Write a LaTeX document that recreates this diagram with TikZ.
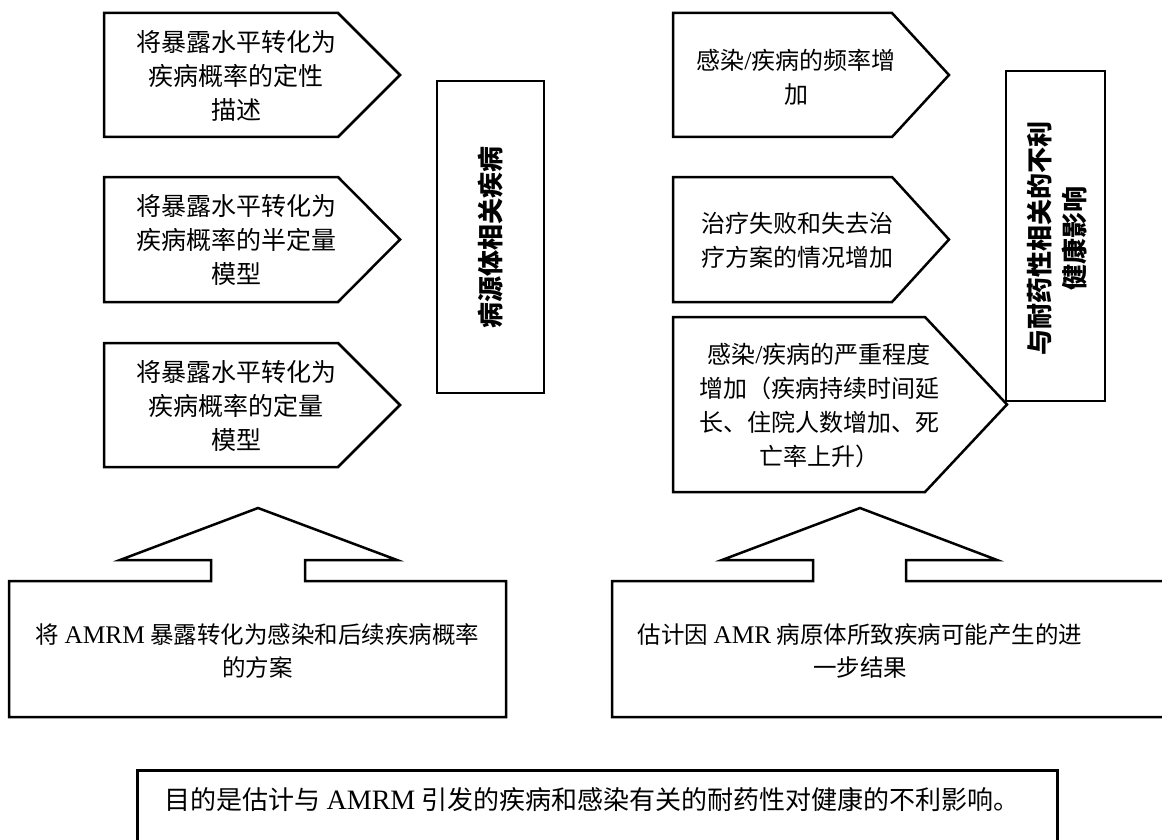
\documentclass[tikz,border=0pt]{standalone}
\usepackage{fontspec}
\setmainfont{Liberation Serif}
\newfontfamily\cjk{Noto Sans CJK SC}
\newfontfamily\lat{Liberation Serif}[Scale=1.08]
\begin{document}
\begin{tikzpicture}[x=1pt,y=-1pt,
  shp/.style={draw=black, line width=2.5pt, line join=miter, fill=white},
  txtL/.style={align=center, inner sep=0pt, font={\cjk\fontsize{25}{34}\selectfont}},
  txtR/.style={align=center, inner sep=0pt, font={\cjk\fontsize{24}{34}\selectfont}},
  txtC/.style={align=center, inner sep=0pt, font={\cjk\fontsize{23.5}{33}\selectfont}},
  txtB/.style={align=center, inner sep=0pt, font={\cjk\fontsize{26}{34}\selectfont}},
  txtV/.style={align=center, inner sep=0pt, rotate=90, font={\cjk\bfseries\fontsize{26}{35}\selectfont}}
]
\useasboundingbox (0,0) rectangle (1162,840);
\clip (0,0) rectangle (1162,840);

% left arrows
\draw[shp] (104,13) -- (338,13) -- (400,75) -- (338,137) -- (104,137) -- cycle;
\draw[shp] (104,177) -- (338,177) -- (400,239.5) -- (338,302) -- (104,302) -- cycle;
\draw[shp] (104,343) -- (338,343) -- (400,405) -- (338,467) -- (104,467) -- cycle;
\node[txtL] (l1) at (236,76) {将暴露水平转化为\\疾病概率的定性\\描述};
\node[txtL] (l2) at (236,240) {将暴露水平转化为\\疾病概率的半定量\\模型};
\node[txtL] (l3) at (236,406) {将暴露水平转化为\\疾病概率的定量\\模型};

% left vertical box
\draw[shp] (437,81) rectangle (544,393);
\node[txtV] (lv) at (490.5,237) {病源体相关疾病};

% right arrows
\draw[shp] (673,13) -- (892,13) -- (949,75) -- (892,137) -- (673,137) -- cycle;
\draw[shp] (673,177) -- (892,177) -- (949,239.5) -- (892,302) -- (673,302) -- cycle;
\draw[shp] (673,317) -- (925,317) -- (1007,404.5) -- (925,492) -- (673,492) -- cycle;
\node[txtR] (r1) at (796,77) {感染{\lat /}疾病的频率增\\加};
\node[txtR] (r2) at (797,240) {治疗失败和失去治\\疗方案的情况增加};
\node[txtR] (r3) at (819,406) {感染{\lat /}疾病的严重程度\\增加（疾病持续时间延\\长、住院人数增加、死\\亡率上升）};

% right vertical box
\draw[shp] (1006,71) rectangle (1105,401);
\node[txtV] (rv) at (1057,238) {与耐药性相关的不利\\健康影响};

% bottom-left callout
\draw[shp] (9,717) -- (9,581) -- (211,581) -- (211,560) -- (120,560) -- (258,508) -- (397,560) -- (305,560) -- (305,581) -- (506,581) -- (506,717) -- cycle;
\node[txtC] (c1) at (257.5,651) {将 {\lat AMRM} 暴露转化为感染和后续疾病概率\\的方案};

% bottom-right callout
\draw[shp] (612,717) -- (612,581) -- (813,581) -- (813,560) -- (722,560) -- (860,508) -- (997,560) -- (906,560) -- (906,581) -- (1180,581) -- (1180,717) -- cycle;
\node[txtC] (c2) at (860,651) {估计因 {\lat AMR} 病原体所致疾病可能产生的进\\一步结果};

% bottom box
\draw[shp, line width=3pt] (137,770) rectangle (1057,870);
\node[txtB] (b) at (592,800) {目的是估计与 {\lat AMRM} 引发的疾病和感染有关的耐药性对健康的不利影响。};
\end{tikzpicture}
\end{document}
